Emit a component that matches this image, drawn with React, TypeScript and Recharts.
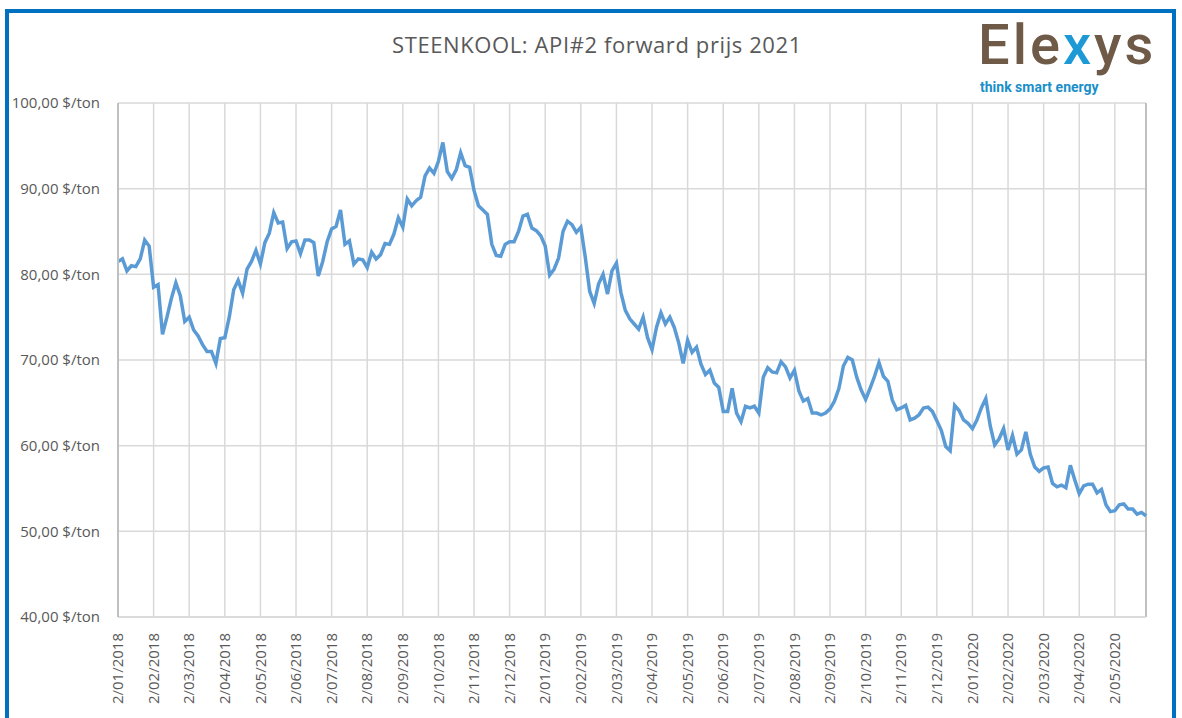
import React from "react";
import { CartesianGrid, Line, LineChart, ReferenceLine, XAxis, YAxis } from "recharts";

// labels under the x axis, one per month
const monthLabels = [
  "2/01/2018", "2/02/2018", "2/03/2018", "2/04/2018", "2/05/2018", "2/06/2018",
  "2/07/2018", "2/08/2018", "2/09/2018", "2/10/2018", "2/11/2018", "2/12/2018",
  "2/01/2019", "2/02/2019", "2/03/2019", "2/04/2019", "2/05/2019", "2/06/2019",
  "2/07/2019", "2/08/2019", "2/09/2019", "2/10/2019", "2/11/2019", "2/12/2019",
  "2/01/2020", "2/02/2020", "2/03/2020", "2/04/2020", "2/05/2020",
];

// $/ton, 8 readings per month
const prices2018 = [
  81.5, 81.8, 80.4, 81.0, 80.9, 81.8, 84.0, 83.3,
  78.5, 78.8, 73.0, 75.0, 77.2, 79.0, 77.5, 74.5,
  75.0, 73.5, 72.8, 71.8, 71.0, 71.0, 69.6, 72.5,
  72.6, 75.0, 78.2, 79.3, 77.8, 80.6, 81.5, 82.8,
  81.2, 83.7, 84.8, 87.2, 86.0, 86.1, 83.0, 83.8,
  83.9, 82.4, 84.0, 84.0, 83.7, 79.8, 81.5, 83.8,
  85.3, 85.6, 87.5, 83.5, 83.9, 81.2, 81.8, 81.7,
  80.8, 82.6, 81.8, 82.3, 83.6, 83.5, 84.7, 86.6,
  85.5, 88.8, 88.0, 88.6, 89.0, 91.5, 92.4, 91.8,
  93.2, 95.4, 92.0, 91.2, 92.2, 94.2, 92.7, 92.5,
  89.8, 88.0, 87.5, 87.0, 83.5, 82.2, 82.1, 83.5,
  83.8, 83.8, 85.0, 86.8, 87.0, 85.4, 85.1, 84.5,
];

const prices2019 = [
  83.3, 79.9, 80.6, 81.9, 85.0, 86.2, 85.8, 84.9,
  85.5, 82.0, 78.0, 76.6, 78.9, 80.0, 77.7, 80.4,
  81.3, 77.9, 75.8, 74.8, 74.2, 73.6, 75.0, 72.6,
  71.2, 73.8, 75.5, 74.2, 75.0, 73.8, 72.0, 69.6,
  72.3, 70.9, 71.5, 69.5, 68.3, 68.8, 67.3, 66.8,
  64.0, 64.0, 66.7, 63.8, 62.8, 64.6, 64.4, 64.6,
  63.8, 68.0, 69.1, 68.6, 68.5, 69.8, 69.2, 67.9,
  68.8, 66.4, 65.2, 65.5, 63.8, 63.8, 63.6, 63.8,
  64.3, 65.2, 66.7, 69.3, 70.3, 70.0, 68.0, 66.5,
  65.4, 66.7, 68.1, 69.7, 68.1, 67.5, 65.3, 64.2,
  64.4, 64.7, 63.0, 63.2, 63.6, 64.4, 64.5, 64.0,
  62.9, 61.8, 59.9, 59.4, 64.7, 64.1, 63.0, 62.6,
];

const prices2020 = [
  62.0, 63.0, 64.4, 65.5, 62.3, 60.1, 60.8, 62.0,
  59.5, 61.2, 59.0, 59.5, 61.6, 59.0, 57.5, 57.0,
  57.4, 57.5, 55.6, 55.2, 55.4, 55.1, 57.7, 56.0,
  54.4, 55.3, 55.5, 55.5, 54.5, 54.9, 53.1, 52.3,
  52.4, 53.1, 53.2, 52.6, 52.6, 52.0, 52.2, 51.8,
];

const yTicks = [40, 50, 60, 70, 80, 90, 100];

const perMonth = 8;
const data = [...prices2018, ...prices2019, ...prices2020].map((price, i) => ({
  m: i / perMonth,
  price,
}));
const lastM = data[data.length - 1].m;

const labelFont = "'Open Sans', sans-serif";
const labelColor = "#595959";

function MonthTick(props: any) {
  const { x, y, payload } = props;
  return (
    <g transform={`translate(${x},${y})`}>
      <text
        x={-8}
        y={0}
        dy="0.35em"
        transform="rotate(-90)"
        textAnchor="end"
        fill={labelColor}
        fontSize={15}
        fontFamily={labelFont}
      >
        {monthLabels[payload.value]}
      </text>
    </g>
  );
}

export default function App() {
  return (
    <div
      style={{
        position: "absolute",
        left: 0,
        top: 0,
        width: 1182,
        height: 718,
        overflow: "hidden",
        background: "#fff",
      }}
    >
      <div
        style={{
          position: "absolute",
          left: 5,
          top: 9,
          width: 1171,
          height: 800,
          boxSizing: "border-box",
          border: "4px solid #0070C0",
        }}
      />
      <div
        style={{
          position: "absolute",
          left: 0,
          top: 29,
          width: 1194,
          textAlign: "center",
          fontFamily: labelFont,
          fontSize: 22,
          letterSpacing: 0.6,
          color: labelColor,
        }}
      >
        STEENKOOL: API#2 forward prijs 2021
      </div>
      <div
        style={{
          position: "absolute",
          left: 978,
          top: 17,
          fontFamily: "Roboto, sans-serif",
          fontSize: 56,
          fontWeight: 500,
          lineHeight: "56px",
          color: "#6e5a47",
          letterSpacing: 3,
        }}
      >
        Ele<span style={{ color: "#1d9ad6" }}>x</span>ys
      </div>
      <div
        style={{
          position: "absolute",
          left: 980,
          top: 79.5,
          fontFamily: "Roboto, sans-serif",
          fontSize: 14,
          lineHeight: "14px",
          fontWeight: 700,
          color: "#1a8fc9",
        }}
      >
        think smart energy
      </div>
      <div style={{ position: "absolute", left: 0, top: 0 }}>
        <LineChart
          width={1182}
          height={718}
          data={data}
          margin={{ top: 103, right: 36, left: 0, bottom: 0 }}
        >
          <CartesianGrid stroke="#d9d9d9" strokeWidth={1.5} />
          <XAxis
            type="number"
            dataKey="m"
            domain={[0, lastM]}
            ticks={monthLabels.map((_, i) => i)}
            interval={0}
            tick={<MonthTick />}
            tickLine={false}
            axisLine={{ stroke: "#d9d9d9", strokeWidth: 1.5 }}
            height={101}
          />
          <YAxis
            type="number"
            domain={[40, 100]}
            ticks={yTicks}
            interval={0}
            width={118}
            tickSize={0}
            tickMargin={18}
            tickLine={false}
            axisLine={{ stroke: "#bfbfbf", strokeWidth: 2 }}
            tickFormatter={(v: number) => `${v},00 $/ton`}
            tick={{ fill: labelColor, fontSize: 15, fontFamily: labelFont }}
          />
          <ReferenceLine x={lastM} stroke="#bfbfbf" strokeWidth={2} />
          <Line
            type="linear"
            dataKey="price"
            stroke="#5B9BD5"
            strokeWidth={3.5}
            dot={false}
            isAnimationActive={false}
          />
        </LineChart>
      </div>
    </div>
  );
}
